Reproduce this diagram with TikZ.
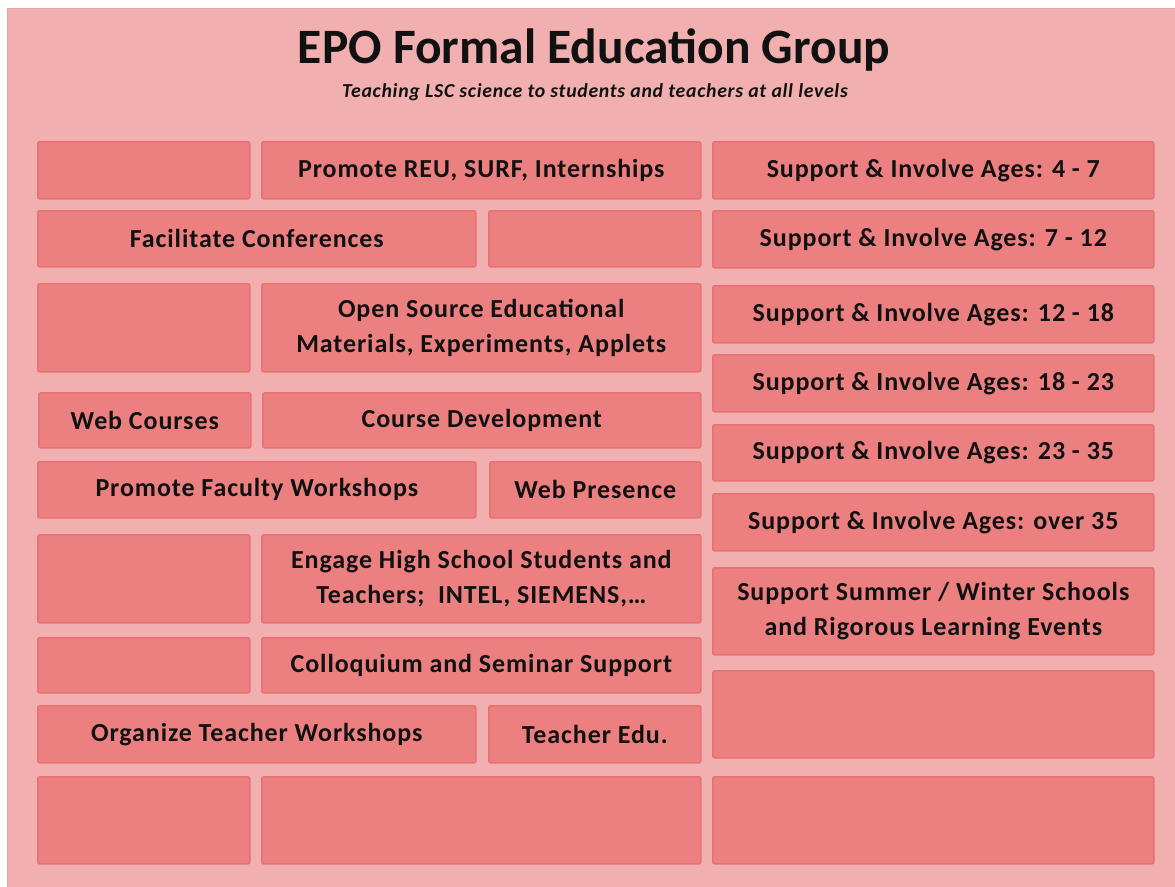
\documentclass[tikz,border=0pt]{standalone}
\usepackage{fontspec}
\setmainfont{Carlito}
\newfontfamily\boxfont[LetterSpace=3.5]{Carlito}
\usepackage{xcolor}
\usepackage{tikz}

\definecolor{panelpink}{HTML}{F2AFAF}
\definecolor{paneledge}{HTML}{EFA2A2}
\definecolor{cellred}{HTML}{EC8080}
\definecolor{celledge}{HTML}{E87272}
\definecolor{inktext}{HTML}{111111}

\tikzset{
  panel/.style={draw=paneledge, fill=panelpink, line width=1pt, anchor=north west, inner sep=0pt},
  cell/.style={draw=celledge, fill=cellred, line width=1.6pt, rounded corners=2pt,
    anchor=north west, inner sep=0pt},
  celltext/.style={text=inktext, align=center, inner sep=0pt,
    font=\boxfont\bfseries\fontsize{26}{34.5}\selectfont},
  heading/.style={text=inktext, inner sep=0pt}
}

% one box of the grid: name, left, top, right, bottom, text
\newcommand{\epocell}[6]{%
  \node[cell, minimum width={#4pt-#2pt}, minimum height={#5pt-#3pt}] (#1) at (#2,#3) {};
  \node[celltext] (#1txt) at (#1.center) {#6};
}

\begin{document}
\begin{tikzpicture}[x=1pt, y=-1pt]
             \useasboundingbox (0,0) rectangle (1175,886);
             \fill[white] (0,0) rectangle (1175,886);
             \node[panel, minimum width=1170pt, minimum height=880pt] (group) at (7,8) {};

             \node[heading, font=\bfseries\fontsize{49.5}{60}\selectfont] (title) at (594,50) {EPO Formal Education Group};
             \node[heading, font=\boxfont\bfseries\itshape\fontsize{19.8}{22}\selectfont] (subtitle) at (595,92) {Teaching LSC science to students and teachers at all levels};

             % left half
             \epocell{ea}{37}{141}{249}{198}{}
             \epocell{reu}{261}{141}{700}{198}{Promote REU, SURF, Internships}
             \epocell{conf}{37}{210}{475}{266}{Facilitate Conferences}
             \epocell{eb}{488}{210}{700}{266}{}
             \epocell{ec}{37}{283}{249}{371}{}
             \epocell{oss}{261}{283}{700}{371}{Open Source Educational\\Materials, Experiments, Applets}
             \epocell{webc}{38}{392}{250}{447}{Web Courses}
             \epocell{cdev}{262}{392}{700}{447}{Course Development}
             \epocell{facw}{37}{461}{475}{517}{Promote Faculty Workshops}
             \epocell{webp}{489}{461}{700}{517}{Web Presence}
             \epocell{ed}{37}{534}{249}{622}{}
             \epocell{hs}{261}{534}{700}{622}{Engage High School Students and\\Teachers;\ \ INTEL, SIEMENS,\ldots}
             \epocell{ee}{37}{637}{249}{692}{}
             \epocell{coll}{261}{637}{700}{692}{Colloquium and Seminar Support}
             \epocell{tchw}{37}{705}{475}{762}{Organize Teacher Workshops}
             \epocell{tedu}{488}{705}{700}{762}{Teacher Edu.}
             \epocell{ef}{37}{776}{249}{863}{}
             \epocell{eg}{261}{776}{700}{863}{}

             % right half
             \epocell{ageA}{712}{141}{1153}{198}{Support \& Involve Ages: 4 - 7}
             \epocell{ageB}{712}{210}{1153}{267}{Support \& Involve Ages: 7 - 12}
             \epocell{ageC}{712}{285}{1153}{342}{Support \& Involve Ages: 12 - 18}
             \epocell{ageD}{712}{354}{1153}{411}{Support \& Involve Ages: 18 - 23}
             \epocell{ageE}{712}{424}{1153}{480}{Support \& Involve Ages: 23 - 35}
             \epocell{ageF}{712}{493}{1153}{550}{Support \& Involve Ages: over 35}
             \epocell{school}{712}{567}{1153}{654}{Support Summer / Winter Schools\\and Rigorous Learning Events}
             \epocell{eh}{712}{670}{1153}{757}{}
             \epocell{ei}{712}{776}{1153}{863}{}
\end{tikzpicture}
\end{document}
